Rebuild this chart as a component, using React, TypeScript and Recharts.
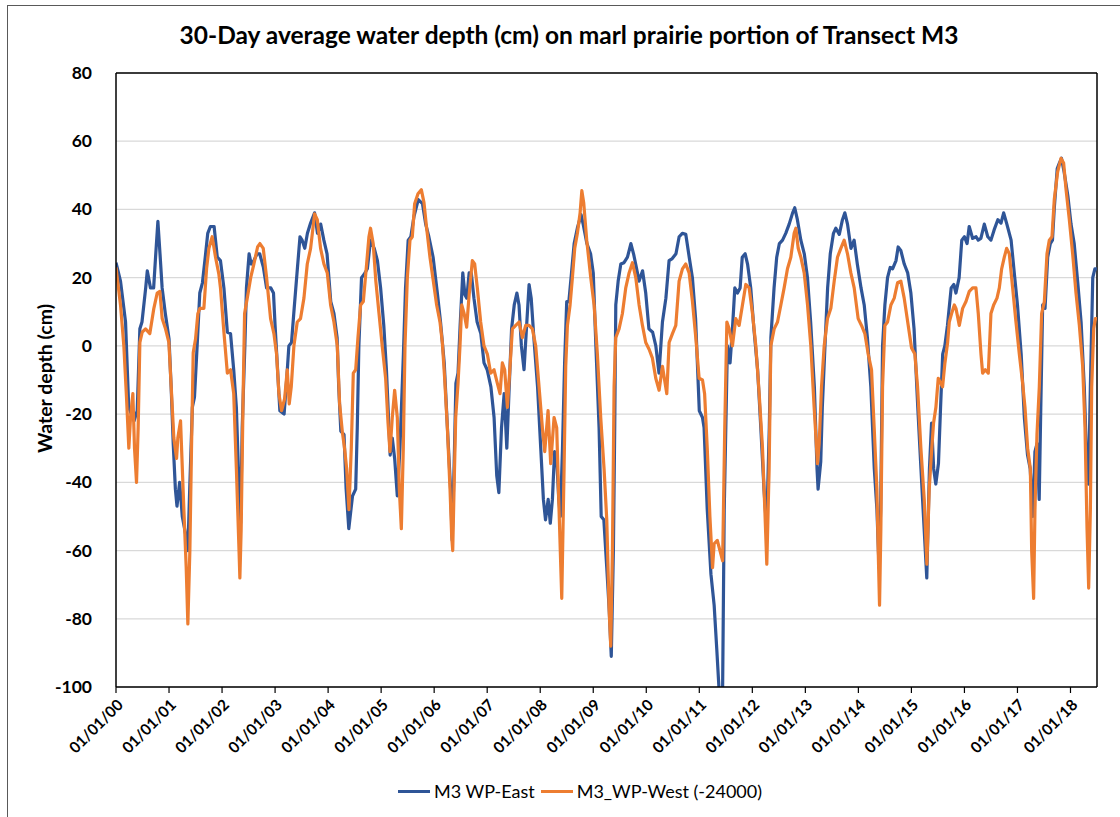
import React from 'react';
import { LineChart, Line, XAxis, YAxis, CartesianGrid, ReferenceLine } from 'recharts';

const title = '30-Day average water depth (cm) on marl prairie portion of Transect M3';
const yLabel = 'Water depth (cm)';
const seriesNames = ['M3 WP-East', 'M3_WP-West (-24000)'];
const seriesColors = ['#2F5597', '#ED7D31'];

// years since 01/01/2000
const yearTicks = [0, 1, 2, 3, 4, 5, 6, 7, 8, 9, 10, 11, 12, 13, 14, 15, 16, 17, 18];
const tickLabels = ['01/01/00', '01/01/01', '01/01/02', '01/01/03', '01/01/04', '01/01/05', '01/01/06', '01/01/07', '01/01/08', '01/01/09', '01/01/10', '01/01/11', '01/01/12', '01/01/13', '01/01/14', '01/01/15', '01/01/16', '01/01/17', '01/01/18'];
const yTicks = [-100, -80, -60, -40, -20, 0, 20, 40, 60, 80];
const xDomain: [number, number] = [0, 18.5];
const yDomain: [number, number] = [-100, 80];

// M3 WP-East: [year, depth cm]
const east: [number, number][] = [
  [0.0, 24.4], [0.085, 19], [0.18, 7], [0.24, -18], [0.29, -20], [0.34, -22], [0.40, -19], [0.45, 5], [0.49, 7], [0.56, 17], [0.59, 22], [0.65, 17], [0.71, 17], [0.75, 27], [0.79, 36.5], [0.83, 27], [0.87, 17], [0.93, 9.5], [1.0, 2], [1.04, -12], [1.08, -29], [1.12, -42], [1.15, -47], [1.2, -40], [1.25, -50], [1.31, -55], [1.355, -60], [1.39, -42], [1.44, -18], [1.48, -15], [1.53, 0], [1.58, 15.5], [1.63, 18.5], [1.69, 27], [1.73, 33], [1.78, 35], [1.85, 35], [1.91, 26], [1.97, 25],
  [2.035, 17], [2.10, 4], [2.16, 3.6], [2.22, -7], [2.27, -18], [2.32, -42], [2.35, -52], [2.38, -24], [2.43, 0], [2.46, 17], [2.51, 27], [2.55, 24], [2.60, 25], [2.66, 27], [2.71, 27], [2.78, 23], [2.84, 17], [2.92, 17], [2.97, 15.5], [3.0, 6], [3.04, -5], [3.09, -19], [3.17, -20], [3.22, -9.5], [3.26, 0], [3.31, 1], [3.36, 11], [3.42, 22.6], [3.47, 32], [3.51, 31], [3.56, 28.6], [3.61, 33], [3.67, 36], [3.745, 39], [3.80, 33], [3.86, 35.7], [3.92, 31], [3.98, 27],
  [4.05, 13], [4.11, 9.5], [4.17, 2.4], [4.20, -12], [4.24, -25], [4.30, -26], [4.34, -42], [4.39, -53.6], [4.46, -44], [4.52, -42], [4.55, -24], [4.58, 0], [4.63, 20], [4.68, 21], [4.74, 22.6], [4.80, 31], [4.87, 28.6], [4.93, 25], [4.99, 17], [5.05, 6], [5.10, -7], [5.17, -32], [5.21, -27], [5.255, -33], [5.305, -44], [5.355, -30], [5.42, -2.4], [5.46, 17], [5.51, 31], [5.56, 32], [5.62, 38], [5.70, 42.9], [5.78, 41.7], [5.84, 35.7], [5.90, 32], [5.98, 26],
  [6.06, 15.5], [6.12, 7], [6.19, -5], [6.25, -24], [6.31, -42], [6.34, -57], [6.375, -36], [6.41, -11], [6.45, -8], [6.49, 6], [6.54, 21.4], [6.58, 15], [6.615, 14], [6.66, 21.4], [6.70, 21.4], [6.75, 14], [6.81, 7], [6.88, 3.6], [6.94, -5], [7.0, -7], [7.07, -12], [7.13, -21], [7.18, -38], [7.22, -43], [7.27, -24], [7.32, -14], [7.37, -30], [7.41, -14], [7.46, 5], [7.51, 12], [7.56, 15.5], [7.60, 12], [7.645, 0], [7.695, -7], [7.74, 5], [7.79, 18], [7.83, 14], [7.88, 2.4], [7.95, -12],
  [8.01, -30], [8.06, -45], [8.10, -51], [8.15, -45], [8.19, -52], [8.23, -45], [8.27, -31], [8.31, -33], [8.35, -45], [8.38, -50], [8.42, -30], [8.46, -5], [8.50, 13], [8.54, 13], [8.59, 21.4], [8.64, 30], [8.70, 34.5], [8.77, 38.5], [8.81, 35.7], [8.88, 30], [8.95, 27], [9.0, 21.4], [9.05, 0], [9.11, -24], [9.15, -50], [9.20, -51], [9.255, -65], [9.30, -77], [9.34, -91], [9.38, -60], [9.405, -24], [9.425, 12], [9.47, 19], [9.52, 24], [9.58, 24.4], [9.645, 26], [9.71, 30], [9.76, 27], [9.80, 24], [9.865, 19], [9.93, 22], [9.99, 15.5],
  [10.05, 5], [10.12, 4], [10.18, 0], [10.24, -8], [10.305, 7], [10.37, 14], [10.43, 25], [10.49, 25.6], [10.56, 27], [10.62, 32], [10.68, 33], [10.745, 32.7], [10.81, 26], [10.87, 20], [10.93, 8], [11.0, -19], [11.06, -21], [11.09, -24], [11.15, -48], [11.22, -67], [11.28, -76], [11.33, -89], [11.37, -100], [11.405, -112], [11.44, -100], [11.47, -48], [11.50, -24], [11.53, 0], [11.58, -5], [11.625, 5], [11.67, 17], [11.72, 15.5], [11.77, 17], [11.81, 26], [11.865, 27], [11.91, 24], [11.97, 17],
  [12.03, 5], [12.10, -7], [12.16, -24], [12.22, -42], [12.27, -53.6], [12.32, -24], [12.35, 2.4], [12.41, 17], [12.46, 26], [12.51, 30], [12.57, 31], [12.63, 33], [12.695, 35.7], [12.76, 39], [12.80, 40.5], [12.85, 37], [12.915, 31], [12.98, 27], [13.04, 20], [13.10, 7], [13.17, -12], [13.22, -36], [13.24, -42], [13.29, -34], [13.32, -18], [13.37, 0], [13.42, 17], [13.47, 27], [13.53, 33], [13.575, 34.5], [13.64, 32.7], [13.70, 37], [13.745, 39], [13.795, 35.7], [13.86, 28.6], [13.92, 31], [13.98, 24],
  [14.05, 17], [14.11, 12], [14.17, 2.4], [14.235, -12], [14.30, -36], [14.35, -48], [14.39, -65], [14.42, -48], [14.456, 0], [14.5, 12], [14.55, 20], [14.60, 23], [14.645, 22.6], [14.71, 25], [14.75, 29], [14.80, 28], [14.865, 24], [14.93, 21.4], [14.99, 15.5], [15.05, 5], [15.12, -18], [15.18, -36], [15.24, -53.6], [15.29, -68], [15.34, -36], [15.38, -22.6], [15.42, -36], [15.46, -40.5], [15.51, -34.5], [15.55, -18], [15.59, -2.4], [15.63, 0], [15.68, 6], [15.75, 17], [15.80, 18], [15.84, 15.5], [15.90, 20], [15.95, 31],
  [16.0, 32], [16.05, 30], [16.09, 35], [16.155, 31.5], [16.22, 32], [16.26, 31], [16.31, 31.5], [16.375, 35.7], [16.44, 32], [16.5, 31], [16.56, 34], [16.63, 37], [16.69, 36], [16.74, 39], [16.80, 35.7], [16.88, 31], [16.94, 21.4], [17.0, 12], [17.07, -2.4], [17.13, -21], [17.19, -32], [17.24, -36], [17.29, -50], [17.33, -31], [17.37, -28.6], [17.41, -45], [17.44, -18], [17.475, 12], [17.52, 11], [17.57, 26], [17.62, 30], [17.66, 31], [17.695, 40.5], [17.75, 52], [17.79, 53.6], [17.83, 55], [17.88, 51], [17.95, 44],
  [18.01, 35.7], [18.07, 30], [18.14, 18], [18.2, 7], [18.26, -12], [18.31, -36], [18.34, -40.5], [18.375, -12], [18.42, 20], [18.46, 22.6], [18.5, 22.6],
];

// M3_WP-West (-24000): [year, depth cm]
const west: [number, number][] = [
  [0.0, 23], [0.085, 12], [0.148, 0], [0.198, -15], [0.242, -30], [0.274, -21], [0.318, -14], [0.349, -30], [0.387, -40], [0.418, -24], [0.45, 1], [0.494, 4], [0.557, 5], [0.638, 3.6], [0.714, 11], [0.777, 15.5], [0.827, 16], [0.871, 8], [0.934, 5], [0.997, 1], [1.041, -12], [1.091, -27], [1.142, -33], [1.166, -27], [1.217, -22], [1.28, -48], [1.324, -65], [1.355, -81.5], [1.393, -60], [1.424, -30], [1.456, -2], [1.5, 2], [1.544, 9.5], [1.582, 11], [1.657, 11], [1.708, 22.6], [1.752, 28.6], [1.814, 32], [1.877, 26], [1.94, 21], [1.97, 17],
  [2.035, 4], [2.10, -8], [2.16, -7], [2.22, -14], [2.27, -36], [2.32, -60], [2.336, -68], [2.36, -54], [2.40, -12], [2.425, 9.5], [2.475, 14], [2.54, 20], [2.60, 24], [2.67, 29], [2.714, 30], [2.777, 28.6], [2.84, 20], [2.915, 8], [2.978, 3.6], [3.028, -2.4], [3.072, -14], [3.123, -19], [3.18, -15.5], [3.23, -7], [3.267, -17], [3.305, -12], [3.355, 0], [3.418, 7], [3.48, 8], [3.544, 14], [3.607, 24], [3.67, 28.6], [3.745, 38.7], [3.796, 37], [3.858, 28.6], [3.921, 24], [3.984, 21.4],
  [4.047, 12], [4.11, 7], [4.173, 0], [4.217, -17], [4.267, -25], [4.31, -30], [4.35, -36], [4.393, -48], [4.437, -30], [4.475, -8], [4.52, -7], [4.563, 2.4], [4.613, 12], [4.664, 13], [4.726, 24], [4.77, 32], [4.80, 34.5], [4.85, 30], [4.90, 19], [4.96, 9.5], [5.02, 0], [5.085, -9.5], [5.13, -22.6], [5.167, -31], [5.21, -21], [5.255, -13], [5.305, -21], [5.343, -42], [5.381, -53.6], [5.418, -30], [5.45, 0], [5.494, 20], [5.544, 31], [5.588, 32], [5.632, 41.7], [5.695, 44.6], [5.758, 45.8], [5.808, 42], [5.858, 34.5], [5.921, 26], [5.984, 19],
  [6.047, 12], [6.11, 7], [6.154, 1], [6.198, -9.5], [6.249, -24], [6.299, -42], [6.331, -56], [6.35, -60], [6.375, -42], [6.406, -21], [6.45, -11], [6.487, 0], [6.52, 12], [6.565, 9.5], [6.613, 5.5], [6.66, 15], [6.72, 25], [6.764, 24], [6.814, 17], [6.877, 7], [6.94, 0], [7.003, -2.4], [7.066, -8], [7.129, -7], [7.192, -11], [7.242, -14], [7.286, -5], [7.33, -7], [7.381, -18], [7.431, -6], [7.475, 5], [7.538, 6], [7.601, 7], [7.664, 2.4], [7.726, 6], [7.789, 6], [7.852, 5], [7.915, 0], [7.978, -12],
  [8.041, -24], [8.085, -31], [8.148, -19], [8.198, -34.5], [8.261, -21], [8.311, -24], [8.355, -48], [8.406, -74], [8.45, -36], [8.481, -6], [8.513, 6], [8.563, 12], [8.607, 20], [8.651, 28.6], [8.701, 33], [8.752, 39], [8.785, 45.5], [8.82, 42], [8.877, 31], [8.953, 20], [9.016, 12], [9.078, -2.4], [9.141, -21], [9.204, -36], [9.255, -51], [9.299, -77], [9.33, -88], [9.362, -60], [9.393, -12], [9.424, 2.4], [9.487, 5], [9.55, 9.5], [9.613, 17], [9.676, 21.4], [9.739, 24.4], [9.802, 20], [9.865, 12], [9.928, 6], [9.99, 1],
  [10.053, -1], [10.116, -3.6], [10.179, -9.5], [10.242, -13], [10.305, -6], [10.387, -14], [10.431, 1], [10.494, 3.6], [10.557, 6], [10.619, 19], [10.682, 22.6], [10.745, 24], [10.808, 21.4], [10.871, 13], [10.934, 2.4], [10.997, -9.5], [11.06, -10], [11.10, -14], [11.15, -30], [11.20, -50], [11.25, -65], [11.28, -58], [11.34, -57], [11.39, -60], [11.44, -63], [11.48, -24], [11.52, 7], [11.563, 5], [11.625, 0], [11.688, 8], [11.751, 6], [11.814, 12], [11.877, 18], [11.94, 17],
  [12.003, 9.5], [12.066, 0], [12.129, -14], [12.192, -30], [12.236, -48], [12.273, -64], [12.317, -36], [12.349, 0], [12.412, 5], [12.475, 7], [12.538, 12], [12.6, 17], [12.663, 22.6], [12.726, 26], [12.789, 33], [12.821, 34.5], [12.865, 28.6], [12.915, 26], [12.978, 21.4], [13.041, 12], [13.103, 0], [13.166, -18], [13.229, -34.5], [13.261, -28.6], [13.305, -12], [13.355, 0], [13.418, 8], [13.481, 11], [13.544, 19], [13.606, 26], [13.669, 28.6], [13.732, 31], [13.795, 27], [13.858, 21.4], [13.921, 17], [13.996, 8],
  [14.059, 6], [14.122, 3.6], [14.185, -2.4], [14.248, -7], [14.298, -24], [14.349, -42], [14.374, -60], [14.399, -76], [14.424, -53.6], [14.456, -12], [14.5, 6], [14.55, 7], [14.613, 12], [14.676, 14], [14.739, 18.5], [14.801, 19], [14.864, 14], [14.94, 6], [15.003, -0.6], [15.065, -2.4], [15.116, -12], [15.179, -30], [15.242, -45], [15.292, -64], [15.336, -42], [15.38, -31], [15.418, -22.6], [15.462, -18], [15.506, -9.5], [15.556, -11], [15.588, -12], [15.632, -5], [15.683, 1], [15.714, 7], [15.758, 9.5], [15.809, 12], [15.84, 11], [15.903, 6], [15.966, 11],
  [16.029, 13], [16.092, 16], [16.155, 17], [16.217, 17], [16.261, 9.5], [16.312, -2.4], [16.343, -8], [16.393, -7], [16.45, -8], [16.5, 9.5], [16.551, 12], [16.614, 14], [16.658, 17], [16.702, 22.6], [16.752, 26], [16.796, 28.6], [16.846, 27], [16.909, 17], [16.972, 7], [17.035, -2.4], [17.098, -11], [17.142, -18], [17.192, -30], [17.243, -36], [17.268, -60], [17.305, -74], [17.33, -48], [17.368, -26], [17.412, -12], [17.456, 9.5], [17.507, 13], [17.557, 27], [17.601, 31], [17.651, 32], [17.695, 43], [17.758, 51], [17.821, 55], [17.871, 53.6], [17.915, 46], [17.978, 37],
  [18.041, 27], [18.104, 15.5], [18.167, 6], [18.23, -6], [18.274, -24], [18.312, -53.6], [18.343, -71], [18.375, -48], [18.4, -12], [18.438, 5], [18.469, 8], [18.5, 8],
];

const eastData = east.map(([t, v]) => ({ t, v }));
const westData = west.map(([t, v]) => ({ t, v }));

const FONT = 'Lato, "Open Sans", sans-serif';

const XTick = (props: any) => {
  const { x, y, payload } = props;
  return (
    <g transform={`translate(${x + 8},${y + 11})`}>
      <text x={0} y={0} textAnchor="end" transform="rotate(-45)" fontFamily={FONT} fontWeight={700} fontSize={15.5} fill="#000">
        {tickLabels[payload.value]}
      </text>
    </g>
  );
};

const YTick = (props: any) => {
  const { x, y, payload } = props;
  return (
    <text x={x - 2} y={y} dy={6} textAnchor="end" fontFamily={FONT} fontWeight={700} fontSize={17.5} fill="#000">
      {payload.value}
    </text>
  );
};

export default function App() {
  return (
    <div style={{ position: 'absolute', left: 0, top: 0, width: 1120, height: 817, background: '#fff', overflow: 'hidden' }}>
      <div style={{ position: 'absolute', left: 7, top: 5, width: 1300, height: 1000, borderLeft: '1px solid #595959', borderTop: '1px solid #595959' }} />
      <div style={{ position: 'absolute', left: 0, width: 1138, top: 20, textAlign: 'center', fontFamily: FONT, fontWeight: 700, fontSize: 24.5, color: '#000', whiteSpace: 'nowrap' }}>
        {title}
      </div>
      <div style={{ position: 'absolute', left: 44, top: 379, width: 0, height: 0 }}>
        <div style={{ position: 'absolute', left: -100, top: -12, width: 200, textAlign: 'center', transform: 'rotate(-90deg)', fontFamily: FONT, fontWeight: 700, fontSize: 19.5, color: '#000', whiteSpace: 'nowrap' }}>
          {yLabel}
        </div>
      </div>
      <div style={{ position: 'absolute', left: 0, top: 0 }}>
        <LineChart width={1120} height={817} margin={{ top: 73, right: 23, left: 56, bottom: 50 }}>
          <CartesianGrid horizontal={true} vertical={false} stroke="#D9D9D9" strokeWidth={1.2} />
          <XAxis
            type="number"
            dataKey="t"
            domain={xDomain}
            ticks={yearTicks}
            allowDataOverflow
            interval={0}
            height={80}
            axisLine={{ stroke: '#000', strokeWidth: 1.5 }}
            tickLine={{ stroke: '#000', strokeWidth: 1.2 }}
            tickSize={6}
            tick={<XTick />}
          />
          <YAxis
            type="number"
            domain={yDomain}
            ticks={yTicks}
            allowDataOverflow
            interval={0}
            width={60}
            axisLine={{ stroke: '#000', strokeWidth: 1.5 }}
            tickLine={false}
            tickSize={0}
            tickMargin={22}
            tick={<YTick />}
          />
          <ReferenceLine y={80} stroke="#000" strokeWidth={1.5} />
          <ReferenceLine x={18.5} stroke="#000" strokeWidth={1.5} />
          <Line data={eastData} dataKey="v" type="linear" stroke={seriesColors[0]} strokeWidth={3.2} dot={false} isAnimationActive={false} strokeLinejoin="round" />
          <Line data={westData} dataKey="v" type="linear" stroke={seriesColors[1]} strokeWidth={3.2} dot={false} isAnimationActive={false} strokeLinejoin="round" />
        </LineChart>
      </div>
      <div style={{ position: 'absolute', left: 0, width: 1160, top: 780, display: 'flex', justifyContent: 'center', alignItems: 'center', fontFamily: FONT, fontSize: 18, color: '#000' }}>
        {seriesNames.map((n, i) => (
          <div key={n} style={{ display: 'flex', alignItems: 'center', marginRight: i === 0 ? 6 : 0 }}>
            <div style={{ width: 32, height: 3, background: seriesColors[i], marginRight: 4 }} />
            <span>{n}</span>
          </div>
        ))}
      </div>
    </div>
  );
}
